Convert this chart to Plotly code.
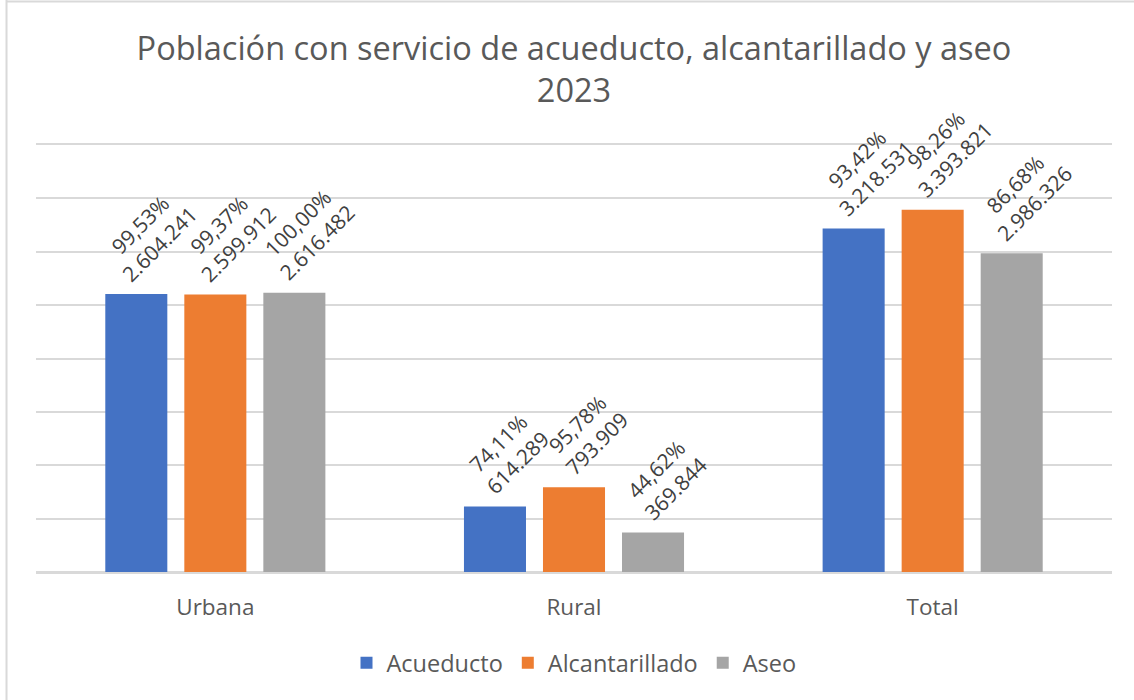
import plotly.graph_objects as go

categories = ["Urbana", "Rural", "Total"]
series_names = ["Acueducto", "Alcantarillado", "Aseo"]
colors = ["#4472C4", "#ED7D31", "#A5A5A5"]
acueducto = [2604241, 614289, 3218531]
alcantarillado = [2599912, 793909, 3393821]
aseo = [2616482, 369844, 2986326]
acueducto_pct = ["99,53%", "74,11%", "93,42%"]
alcantarillado_pct = ["99,37%", "95,78%", "98,26%"]
aseo_pct = ["100,00%", "44,62%", "86,68%"]

values = [acueducto, alcantarillado, aseo]
pcts = [acueducto_pct, alcantarillado_pct, aseo_pct]

FONT = "Open Sans"
TXT = "#595959"
BARGAP = 0.339
BARGROUPGAP = 0.215


def fmt(v):
    return f"{v:,}".replace(",", ".")


fig = go.Figure()
for name, col, vals in zip(series_names, colors, values):
    fig.add_trace(go.Bar(name=name, x=categories, y=vals, marker=dict(color=col, line=dict(width=0))))

annotations = []
slot = (1 - BARGAP) / 3
for j, (vals, pc) in enumerate(zip(values, pcts)):
    for i, (v, p) in enumerate(zip(vals, pc)):
        annotations.append(dict(
            x=i + (j - 1) * slot, y=v, xref="x", yref="y",
            text=f"{p}<br>{fmt(v)}", showarrow=False, textangle=-45,
            xanchor="center", yanchor="bottom", yshift=4, xshift=13,
            font=dict(family=FONT, size=21, color="#404040"),
        ))

shapes = [
    dict(type="line", xref="paper", yref="paper", x0=-0.0274, x1=1.04, y0=1.336, y1=1.336,
         line=dict(color="#D9D9D9", width=2)),
    dict(type="line", xref="paper", yref="paper", x0=-0.0274, x1=-0.0274, y0=1.34, y1=-0.31,
         line=dict(color="#D9D9D9", width=2)),
]

fig.update_layout(
    width=1134, height=700,
    margin=dict(l=36, r=22, t=145, b=128),
    paper_bgcolor="white", plot_bgcolor="white",
    barmode="group", bargap=BARGAP, bargroupgap=BARGROUPGAP,
    title=dict(text="Población con servicio de acueducto, alcantarillado y aseo<br>2023",
               x=0.5, xref="paper", xanchor="center", y=0.915, yref="container", yanchor="middle",
               font=dict(family=FONT, size=32.5, color=TXT)),
    xaxis=dict(showgrid=False, showline=True, mirror=True, linecolor="#D9D9D9", linewidth=1.5,
               ticks="", ticklabelstandoff=14,
               tickfont=dict(family=FONT, size=22.5, color=TXT)),
    yaxis=dict(range=[0, 4000000], dtick=500000, showticklabels=False, showgrid=True,
               gridcolor="#D9D9D9", gridwidth=1.5, zeroline=True, zerolinecolor="#D9D9D9",
               zerolinewidth=1.5, showline=False),
    legend=dict(orientation="h", x=0.5, xanchor="center", y=-0.213, yanchor="middle",
                font=dict(family=FONT, size=23.5, color=TXT), itemwidth=30),
    annotations=annotations, shapes=shapes,
)

fig.write_html("out.html", config={"displayModeBar": False},
               post_script="document.body.style.margin='0';")
